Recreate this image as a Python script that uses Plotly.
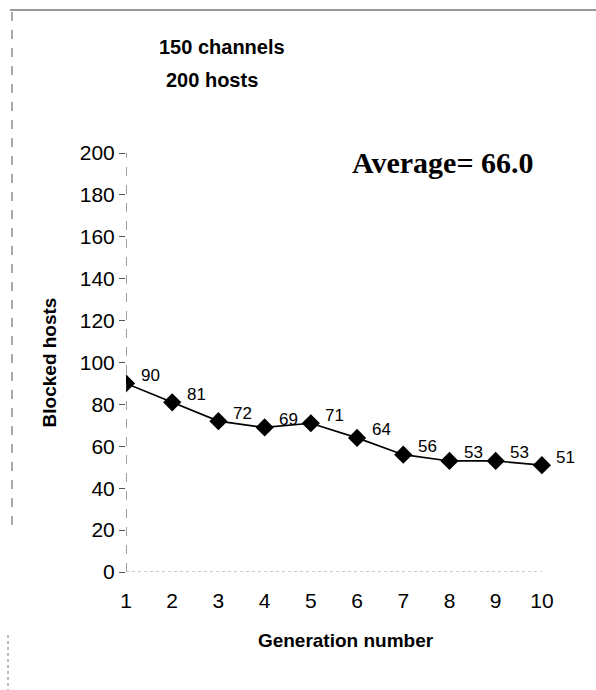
import plotly.graph_objects as go

# Blocked hosts per generation (150 channels, 200 hosts)
generations = [1, 2, 3, 4, 5, 6, 7, 8, 9, 10]
blocked_hosts = [90, 81, 72, 69, 71, 64, 56, 53, 53, 51]
y_ticks = [0, 20, 40, 60, 80, 100, 120, 140, 160, 180, 200]
average_label = "Average= 66.0"

W, H = 596, 690
L, R, T, B = 126, 31, 153, 118
PW, PH = W - L - R, H - T - B

SANS = "Arial, Liberation Sans"
SERIF = "Times New Roman, Liberation Serif"


def px(x):
    return (x - L) / PW


def py(y):
    return (H - B - y) / PH


fig = go.Figure()
fig.add_trace(go.Scatter(
    x=generations, y=blocked_hosts, mode="lines+markers",
    line=dict(color="black", width=1.7),
    marker=dict(symbol="diamond", size=14, color="black"),
    showlegend=False, hoverinfo="skip",
))

annotations = []
for g, v in zip(generations, blocked_hosts):
    annotations.append(dict(
        x=g, y=v, xref="x", yref="y", text=str(v), showarrow=False,
        xshift=24, yshift=8,
        font=dict(family=SANS, size=17, color="black"),
    ))

annotations += [
    dict(x=px(222), y=py(47), xref="paper", yref="paper", text="<b>150 channels</b>",
         xanchor="center", yanchor="middle", showarrow=False,
         font=dict(family=SANS, size=20, color="black")),
    dict(x=px(212), y=py(80), xref="paper", yref="paper", text="<b>200 hosts</b>",
         xanchor="center", yanchor="middle", showarrow=False,
         font=dict(family=SANS, size=20, color="black")),
    dict(x=px(442), y=py(162), xref="paper", yref="paper", text="<b>" + average_label + "</b>",
         xanchor="center", yanchor="middle", showarrow=False,
         font=dict(family=SERIF, size=30, color="black")),
]

shapes = [
    # outer frame remnants
    dict(type="line", xref="paper", yref="paper", x0=px(10), x1=px(596), y0=py(10), y1=py(10),
         line=dict(color="#333", width=1.2)),
    dict(type="line", xref="paper", yref="paper", x0=px(12), x1=px(12), y0=py(12), y1=py(525),
         line=dict(color="#555", width=1, dash="dash")),
    dict(type="line", xref="paper", yref="paper", x0=px(8), x1=px(8), y0=py(635), y1=py(690),
         line=dict(color="#777", width=1, dash="dot")),
    # axis lines
    dict(type="line", xref="x", yref="y", x0=1, x1=1, y0=0, y1=200,
         line=dict(color="#444", width=1, dash="dash")),
    dict(type="line", xref="x", yref="y", x0=1, x1=10, y0=0, y1=0,
         line=dict(color="#999", width=1, dash="dot")),
]

fig.update_layout(
    width=W, height=H,
    margin=dict(l=L, r=R, t=T, b=B),
    paper_bgcolor="white", plot_bgcolor="white",
    annotations=annotations, shapes=shapes,
    xaxis=dict(
        range=[1, 10.5], tickmode="array", tickvals=generations,
        showgrid=False, zeroline=False, showline=False, ticks="",
        tickfont=dict(family=SANS, size=21, color="black"),
        ticklabelstandoff=14,
        title=dict(text="<b>Generation number</b>", standoff=22,
                   font=dict(family=SANS, size=19, color="black")),
    ),
    yaxis=dict(
        range=[0, 200], tickmode="array", tickvals=y_ticks,
        showgrid=False, zeroline=False, showline=False,
        ticks="outside", ticklen=6, tickcolor="#555", tickwidth=1,
        tickfont=dict(family=SANS, size=21, color="black"),
        title=dict(text="<b>Blocked hosts</b>", standoff=18,
                   font=dict(family=SANS, size=19, color="black")),
    ),
)

fig.write_html("out.html")
